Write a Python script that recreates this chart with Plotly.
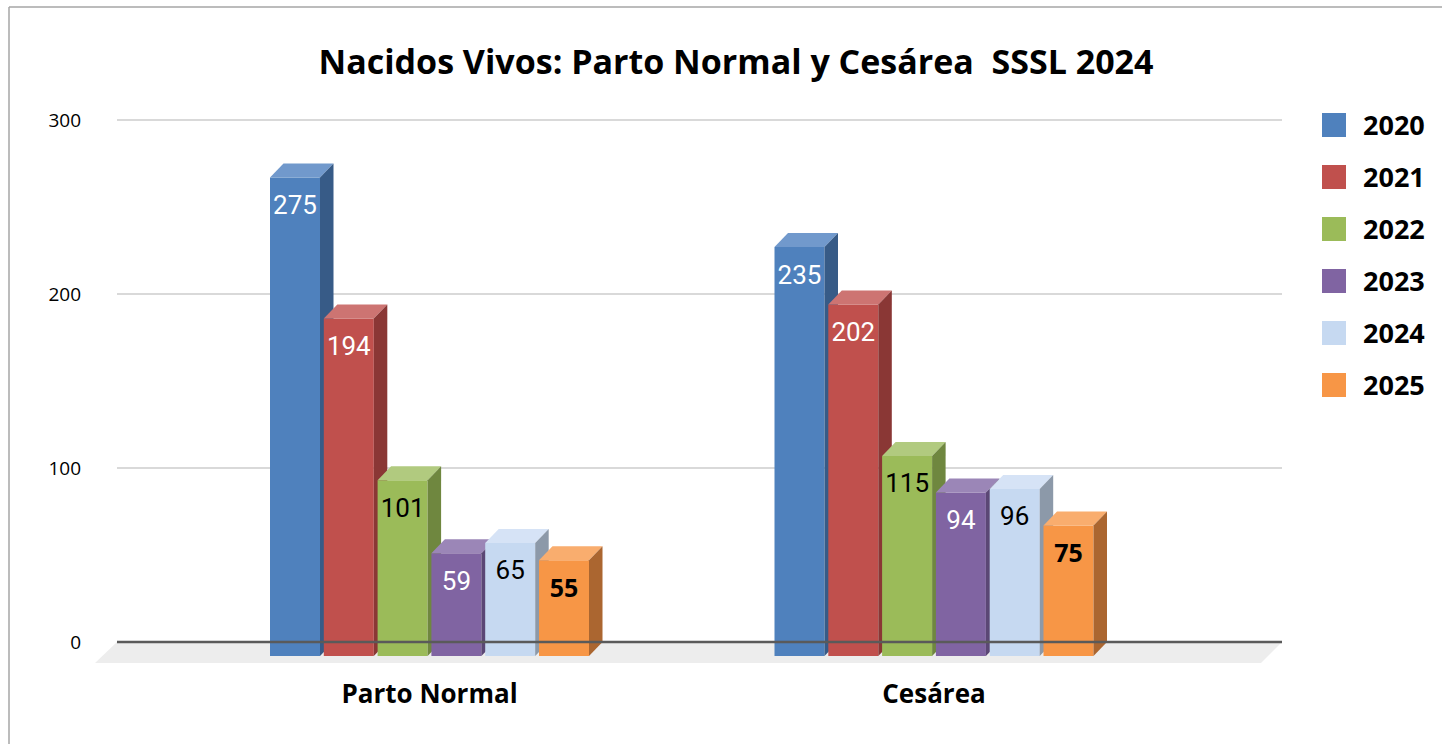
import plotly.graph_objects as go

# ---------------- data ----------------
categories = ["Parto Normal", "Cesárea"]
years = ["2020", "2021", "2022", "2023", "2024", "2025"]
v2020 = [275, 235]
v2021 = [194, 202]
v2022 = [101, 115]
v2023 = [59, 94]
v2024 = [65, 96]
v2025 = [55, 75]
series = [v2020, v2021, v2022, v2023, v2024, v2025]
ytick_vals = [0, 100, 200, 300]
title_text = "Nacidos Vivos: Parto Normal y Cesárea  SSSL 2024"

# ---------------- styles ----------------
front_colors = ["#4f81bd", "#c0504d", "#9bbb59", "#8064a2", "#c6d9f1", "#f79646"]
top_colors = ["#7199cc", "#cd7472", "#b1ca7f", "#9b86b7", "#d6e3f6", "#f9ad6e"]
side_colors = ["#375b87", "#8a3735", "#6f873f", "#5b4775", "#8c99a9", "#ab6630"]
label_colors = ["white", "white", "black", "white", "black", "black"]
label_fonts = ["Roboto"] * 5 + ["Open Sans"]
label_sizes = [26, 26, 26, 26, 26, 25]
label_weights = ["normal"] * 5 + ["bold"]

W, H = 1442, 744
PL, PR, PT, PB = 95, 1282, 100, 670          # plot area in pixels
Y0PX, YPX = 642, 1.74                        # pixel of value 0, pixels per unit
C0PX, XUNIT = 429.5, 504.5                   # pixel of first category, pixels per category

def xd(px):
    return (px - C0PX) / XUNIT

def yd(py):
    return (Y0PX - py) / YPX

def xp(px):
    return (px - PL) / (PR - PL)

def yp(py):
    return (PB - py) / (PB - PT)

step = 53.8 / XUNIT
bw = 50 / XUNIT
dx = 13.5 / XUNIT
dy = 14 / YPX
label_drop = 30 / YPX

fig = go.Figure()

# floor
fig.add_trace(go.Scatter(
    x=[xd(117), xd(1282), xd(1261), xd(95), xd(117)],
    y=[0, 0, yd(663), yd(663), 0],
    fill="toself", fillcolor="#ededed", mode="lines", line=dict(width=0),
    hoverinfo="skip", showlegend=False))

# 3D bars
for i, cat in enumerate(categories):
    for j, yr in enumerate(years):
        v = series[j][i]
        xl = i + (j - 2.5) * step - bw / 2
        xr = xl + bw
        # front face
        fig.add_trace(go.Scatter(
            x=[xl, xr, xr, xl, xl], y=[-dy, -dy, v - dy, v - dy, -dy],
            fill="toself", fillcolor=front_colors[j], mode="lines", line=dict(width=0),
            name=yr, hovertemplate=f"{cat} {yr}: {v}<extra></extra>", showlegend=False))
        # top face
        fig.add_trace(go.Scatter(
            x=[xl, xr, xr + dx, xl + dx, xl], y=[v - dy, v - dy, v, v, v - dy],
            fill="toself", fillcolor=top_colors[j], mode="lines", line=dict(width=0),
            hoverinfo="skip", showlegend=False))
        # side face
        fig.add_trace(go.Scatter(
            x=[xr, xr + dx, xr + dx, xr, xr], y=[-dy, 0, v, v - dy, -dy],
            fill="toself", fillcolor=side_colors[j], mode="lines", line=dict(width=0),
            hoverinfo="skip", showlegend=False))

# value labels
for j, yr in enumerate(years):
    xs = [i + (j - 2.5) * step for i in range(len(categories))]
    ys = [series[j][i] - dy - label_drop for i in range(len(categories))]
    fig.add_trace(go.Scatter(
        x=xs, y=ys, mode="text", text=[str(v) for v in series[j]],
        textposition="middle center",
        textfont=dict(family=label_fonts[j], size=label_sizes[j], color=label_colors[j],
                      weight=label_weights[j]),
        hoverinfo="skip", showlegend=False))

shapes = []
# gridlines
for t in ytick_vals[1:]:
    shapes.append(dict(type="line", xref="x", yref="y", x0=xd(117), x1=xd(1282), y0=t, y1=t,
                       line=dict(color="#d9d9d9", width=2), layer="below"))
# zero axis line
shapes.append(dict(type="line", xref="x", yref="y", x0=xd(117), x1=xd(1282), y0=0, y1=0,
                   line=dict(color="#5a5a5a", width=2.5), layer="above"))
# outer border (left and top)
shapes.append(dict(type="line", xref="paper", yref="paper", x0=xp(9), x1=xp(1442), y0=yp(7), y1=yp(7),
                   line=dict(color="#a6a6a6", width=1.5)))
shapes.append(dict(type="line", xref="paper", yref="paper", x0=xp(9), x1=xp(9), y0=yp(7), y1=yp(744),
                   line=dict(color="#a6a6a6", width=1.5)))

# custom legend
annotations = []
for j, yr in enumerate(years):
    cy = 125 + 52 * j
    shapes.append(dict(type="rect", xref="paper", yref="paper",
                       x0=xp(1322), x1=xp(1346), y0=yp(cy - 12), y1=yp(cy + 12),
                       fillcolor=front_colors[j], line=dict(width=0)))
    annotations.append(dict(xref="paper", yref="paper", x=xp(1361), y=yp(cy - 1),
                            xanchor="left", yanchor="middle", showarrow=False, text=yr,
                            font=dict(family="Open Sans", size=27, color="black", weight="bold")))

fig.update_layout(
    width=W, height=H,
    margin=dict(l=PL, r=W - PR, t=PT, b=H - PB, pad=0),
    paper_bgcolor="white", plot_bgcolor="white",
    showlegend=False,
    title=dict(text=title_text, x=736 / W, xanchor="center", y=1 - 62 / H, yanchor="middle",
               yref="container",
               font=dict(family="Open Sans", size=34, color="black", weight="bold")),
    xaxis=dict(range=[xd(PL), xd(PR)], tickvals=list(range(len(categories))), ticktext=categories,
               showgrid=False, zeroline=False, showline=False, ticks="",
               ticklabelstandoff=6,
               tickfont=dict(family="Open Sans", size=26, color="black", weight="bold"), fixedrange=True),
    yaxis=dict(range=[yd(PB), yd(PT)], tickvals=ytick_vals, showgrid=False, zeroline=False,
               showline=False, ticks="", ticklabelstandoff=13,
               tickfont=dict(family="Open Sans", size=19, color="black"), fixedrange=True),
    shapes=shapes, annotations=annotations,
)

fig.write_html("out.html", config={"displayModeBar": False},
               post_script="document.body.style.margin='0';document.body.style.overflow='hidden';")
